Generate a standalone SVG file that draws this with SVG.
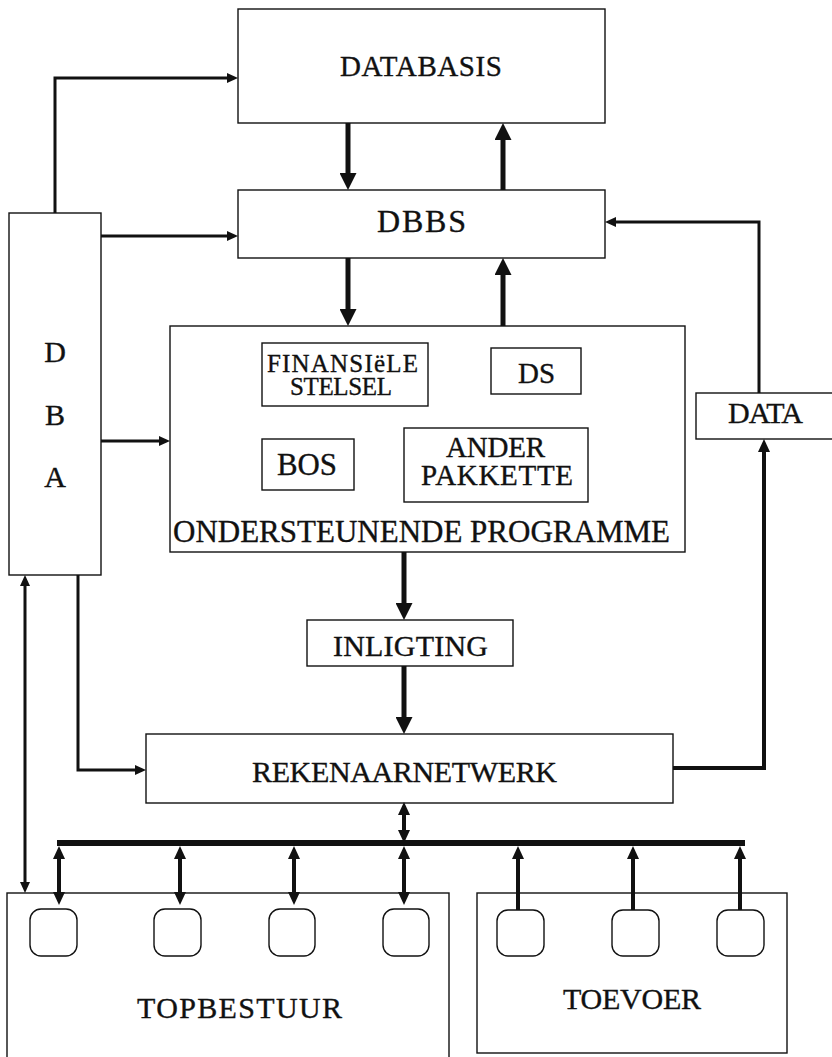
<svg xmlns="http://www.w3.org/2000/svg" width="832" height="1057" viewBox="0 0 832 1057">
<style>
.box{fill:#fff;stroke:#111;stroke-width:1.4}
.term{fill:#fff;stroke:#111;stroke-width:1.4}
.t{font-family:"Liberation Serif","DejaVu Serif",serif;fill:#111;stroke:#111;stroke-width:0.35}
.c3{fill:none;stroke:#111;stroke-width:3}
.c4{fill:none;stroke:#111;stroke-width:4}
.c5{fill:none;stroke:#111;stroke-width:5}
.bus{fill:none;stroke:#111;stroke-width:6}
</style>
<defs>
<marker id="ah" markerUnits="userSpaceOnUse" markerWidth="11" markerHeight="10" refX="0" refY="5" orient="auto"><path d="M0,0 L11,5 L0,10 z" fill="#111"/></marker>
<marker id="am" markerUnits="userSpaceOnUse" markerWidth="13" markerHeight="12" refX="0" refY="6" orient="auto"><path d="M0,0 L13,6 L0,12 z" fill="#111"/></marker>
<marker id="ab" markerUnits="userSpaceOnUse" markerWidth="17" markerHeight="17" refX="0" refY="8.5" orient="auto"><path d="M0,0 L17,8.5 L0,17 z" fill="#111"/></marker>
<marker id="amS" markerUnits="userSpaceOnUse" markerWidth="13" markerHeight="12" refX="13" refY="6" orient="auto"><path d="M13,0 L0,6 L13,12 z" fill="#111"/></marker>
<marker id="ahS" markerUnits="userSpaceOnUse" markerWidth="11" markerHeight="10" refX="11" refY="5" orient="auto"><path d="M11,0 L0,5 L11,10 z" fill="#111"/></marker>
</defs>

<g id="databasis">
<rect class="box" x="238" y="9" width="367" height="114"/>
<text class="t" x="340" y="76" font-size="29" textLength="162" lengthAdjust="spacing">DATABASIS</text>
</g>
<g id="dbbs">
<rect class="box" x="238" y="190" width="367" height="68"/>
<text class="t" x="377" y="232" font-size="32" textLength="89" lengthAdjust="spacing">DBBS</text>
</g>
<g id="dba">
<rect class="box" x="9" y="213" width="92" height="362"/>
<text class="t" x="55" y="362" font-size="30" text-anchor="middle">D</text>
<text class="t" x="55" y="425" font-size="30" text-anchor="middle">B</text>
<text class="t" x="55" y="487" font-size="30" text-anchor="middle">A</text>
</g>
<g id="ondersteunende">
<rect class="box" x="170" y="326" width="515" height="226"/>
<text class="t" x="173" y="542" font-size="31" textLength="497" lengthAdjust="spacingAndGlyphs">ONDERSTEUNENDE PROGRAMME</text>
</g>
<g id="finansiele">
<rect class="box" x="262" y="343" width="166" height="63"/>
<text class="t" x="267" y="372" font-size="25" textLength="151" lengthAdjust="spacing">FINANSIëLE</text>
<text class="t" x="290" y="395" font-size="25" textLength="102" lengthAdjust="spacing">STELSEL</text>
</g>
<g id="ds">
<rect class="box" x="491" y="348" width="90" height="46"/>
<text class="t" x="518" y="383" font-size="30" textLength="37" lengthAdjust="spacingAndGlyphs">DS</text>
</g>
<g id="bos">
<rect class="box" x="262" y="439" width="92" height="51"/>
<text class="t" x="277" y="475" font-size="31" textLength="60" lengthAdjust="spacingAndGlyphs">BOS</text>
</g>
<g id="ander">
<rect class="box" x="404" y="428" width="184" height="74"/>
<text class="t" x="446" y="457" font-size="29" textLength="99" lengthAdjust="spacing">ANDER</text>
<text class="t" x="421" y="485" font-size="29" textLength="152" lengthAdjust="spacing">PAKKETTE</text>
</g>
<g id="data">
<rect class="box" x="696" y="393" width="140" height="46"/>
<text class="t" x="728" y="423" font-size="30" textLength="75" lengthAdjust="spacing">DATA</text>
</g>
<g id="inligting">
<rect class="box" x="307" y="620" width="206" height="46"/>
<text class="t" x="333" y="656" font-size="30" textLength="155" lengthAdjust="spacing">INLIGTING</text>
</g>
<g id="rekenaarnetwerk">
<rect class="box" x="146" y="734" width="527" height="69"/>
<text class="t" x="252" y="782" font-size="30" textLength="305" lengthAdjust="spacing">REKENAARNETWERK</text>
</g>
<g id="topbestuur">
<rect class="box" x="7" y="893" width="442" height="170"/>
<rect class="term" x="30" y="909" width="47" height="47" rx="11"/>
<rect class="term" x="154" y="909" width="47" height="47" rx="11"/>
<rect class="term" x="269" y="909" width="46" height="47" rx="11"/>
<rect class="term" x="383" y="909" width="46" height="47" rx="11"/>
<text class="t" x="137" y="1018" font-size="30" textLength="205" lengthAdjust="spacing">TOPBESTUUR</text>
</g>
<g id="toevoer">
<rect class="box" x="477" y="893" width="310" height="160"/>
<rect class="term" x="497" y="910" width="47" height="46" rx="11"/>
<rect class="term" x="612" y="910" width="47" height="46" rx="11"/>
<rect class="term" x="717" y="910" width="47" height="46" rx="11"/>
<text class="t" x="563" y="1009" font-size="30" textLength="138" lengthAdjust="spacing">TOEVOER</text>
</g>

<g id="connectors">
<path class="c3" d="M55,213 V78 H227" marker-end="url(#ah)"/>
<path class="c3" d="M101,236 H227" marker-end="url(#ah)"/>
<path class="c3" d="M101,441 H159" marker-end="url(#ah)"/>
<path class="c5" d="M348,123 V173" marker-end="url(#ab)"/>
<path class="c5" d="M503,190 V140" marker-end="url(#ab)"/>
<path class="c5" d="M348,258 V309" marker-end="url(#ab)"/>
<path class="c5" d="M503,326 V275" marker-end="url(#ab)"/>
<path class="c5" d="M404,552 V603" marker-end="url(#ab)"/>
<path class="c5" d="M404,666 V717" marker-end="url(#ab)"/>
<path class="c3" d="M759,393 V222 H616" marker-end="url(#ah)"/>
<path class="c4" d="M673,768 H764 V452" marker-end="url(#am)"/>
<path class="c3" d="M78,575 V770 H135" marker-end="url(#ah)"/>
<path class="c3" d="M25,586 V882" marker-start="url(#ahS)" marker-end="url(#ah)"/>
<path class="c4" d="M404,815 V830" marker-start="url(#amS)" marker-end="url(#am)"/>
<path class="bus" d="M57,843 H745"/>
<path class="c4" d="M59,859 V892" marker-start="url(#amS)" marker-end="url(#am)"/>
<path class="c4" d="M180,859 V892" marker-start="url(#amS)" marker-end="url(#am)"/>
<path class="c4" d="M294,859 V892" marker-start="url(#amS)" marker-end="url(#am)"/>
<path class="c4" d="M404,859 V892" marker-start="url(#amS)" marker-end="url(#am)"/>
<path class="c4" d="M518,910 V859" marker-end="url(#am)"/>
<path class="c4" d="M633,910 V859" marker-end="url(#am)"/>
<path class="c4" d="M740,910 V859" marker-end="url(#am)"/>
</g>
</svg>
